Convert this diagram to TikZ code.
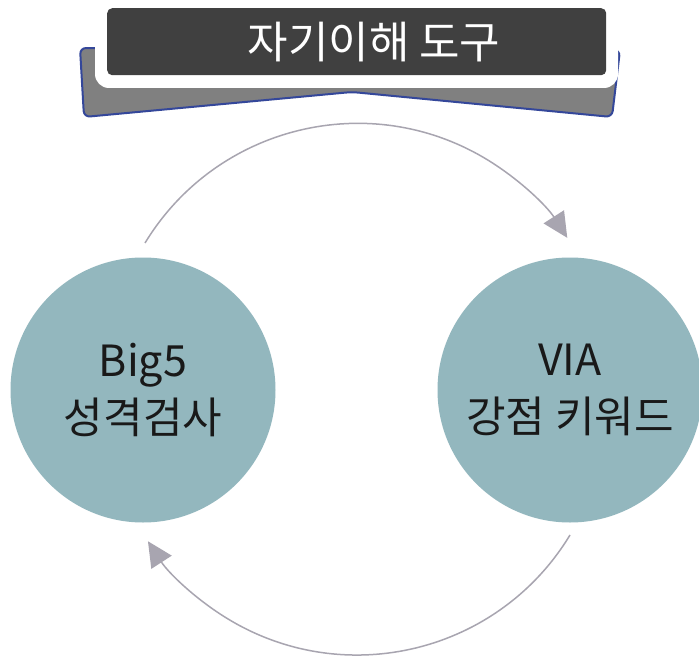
\documentclass[tikz,border=0pt]{standalone}
\usepackage{fontspec}
\setmainfont{Noto Sans CJK KR}
\usetikzlibrary{arrows.meta}
\definecolor{circfill}{HTML}{93B7BE}
\definecolor{bannergray}{HTML}{808080}
\definecolor{bannerblue}{HTML}{34479A}
\definecolor{titlegray}{HTML}{404040}
\definecolor{arcgray}{HTML}{A8A5B0}
\tikzset{
  bigcirc/.style={circle, fill=circfill, minimum size=265pt, inner sep=0pt, align=center,
    font=\fontsize{43}{57}\selectfont, text=black!90},
  cyclearc/.style={draw=arcgray, line width=1.5pt, -{Triangle[length=25pt,width=24pt]}},
}
\begin{document}
\begin{tikzpicture}[x=1pt,y=-1pt]
\useasboundingbox (0,0) rectangle (699,658);
\fill[white] (0,0) rectangle (699,658);
% banner back ribbon
\draw[line width=2pt, draw=bannerblue, fill=bannergray, rounded corners=6]
  (80,48) -- (84,117) -- (352,92) -- (612,117) -- (620,50) -- cycle;
% white frame
\fill[white, rounded corners=14] (95,2) rectangle (618,88);
% title box
\node[fill=titlegray, rounded corners=5, minimum width=499pt, minimum height=67pt,
  inner sep=0pt, anchor=north west] (titlebox) at (107,8) {};
\node[text=white, font=\fontsize{44}{48}\selectfont] (titletext) at (374,42) {자기이해 도구};
% circles
\node[bigcirc] (big5) at (143,390) {Big5\\성격검사};
\node[bigcirc] (via) at (570,390) {VIA\\강점 키워드};
% arcs
\coordinate (topstart) at (145,243);
\coordinate (botstart) at (570,535);
\draw[cyclearc] (topstart) arc[start angle=211.3, end angle=327.3, radius=249];
\draw[cyclearc] (botstart) arc[start angle=31.2, end angle=147.1, radius=249];
\end{tikzpicture}
\end{document}
